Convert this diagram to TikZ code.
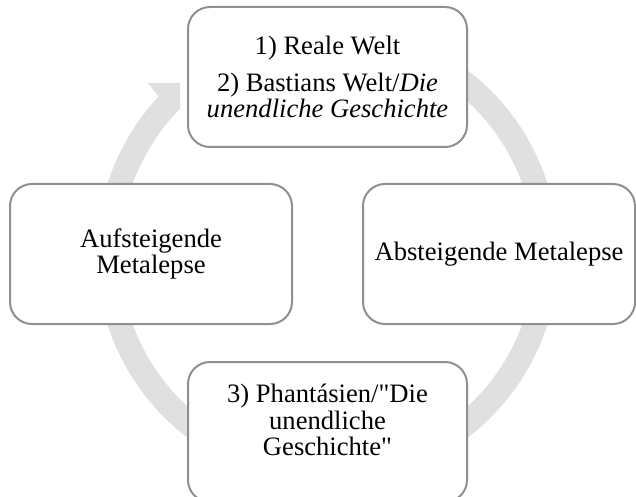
\documentclass[tikz,border=0pt]{standalone}
\usepackage{fontspec}
\setmainfont{Liberation Serif}
\definecolor{boxgray}{HTML}{8F8F8F}
\definecolor{ringgray}{HTML}{E0E0E0}
\tikzset{
  stage/.style={draw=boxgray, line width=1pt, rounded corners=11pt, fill=white,
    align=center, inner sep=0pt, minimum height=70pt,
    font=\fontsize{13.3}{13.3}\selectfont},
}
\begin{document}
\begin{tikzpicture}[x=0.5pt, y=-0.5pt]
    \useasboundingbox (0,0) rectangle (636,497);
    \clip (0,0) rectangle (636,497);

    % ring arrow behind the boxes
    \coordinate (hub) at (327.5,254);
    \draw[ringgray, line width=12pt] ([shift={(-60:219)}]hub) arc[start angle=-60, end angle=223, radius=219];
    \fill[ringgray] ([shift={(223:231)}]hub) -- (148,83) -- (180,83) -- (180,109) -- ([shift={(223:207)}]hub) -- cycle;

    % the four stages
    \node[stage, minimum width=139.5pt] (real) at (327.5,77)
        {1) Reale Welt\\[5.3pt] 2) Bastians Welt/\textit{Die}\\ \textit{unendliche Geschichte}};
    \node[stage, minimum width=136pt] (down) at (499,254) {Absteigende Metalepse};
    \node[stage, minimum width=139.5pt, text depth=12pt] (phant) at (327.5,432)
        {3) Phantásien/\textquotedbl Die\\ unendliche\\ Geschichte\textquotedbl};
    \node[stage, minimum width=141pt] (up) at (151,254) {Aufsteigende\\ Metalepse};
\end{tikzpicture}
\end{document}
